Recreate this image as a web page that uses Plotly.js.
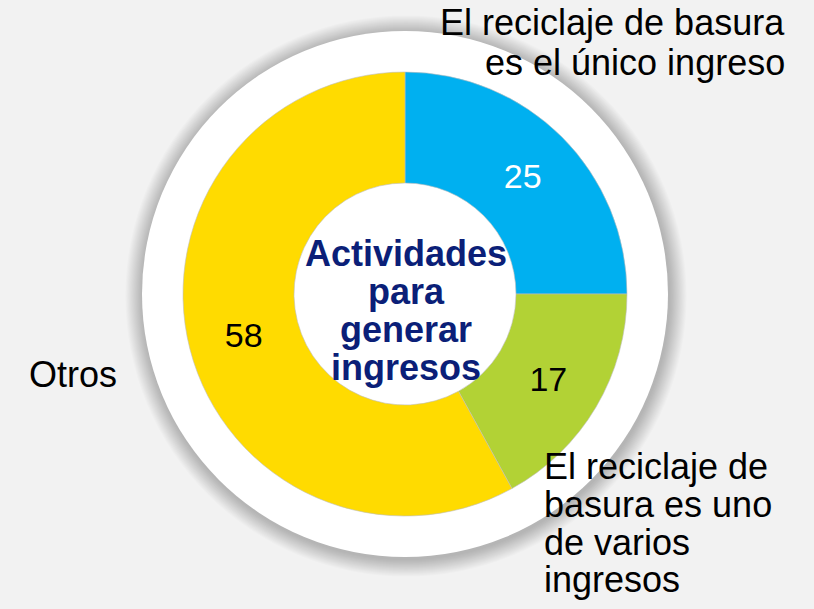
<!DOCTYPE html>
<html>
<head>
<meta charset="utf-8">
<script src="https://cdn.plot.ly/plotly-3.0.1.min.js"></script>
<style>html,body{margin:0;padding:0;background:#F2F2F2;}</style>
</head>
<body>
<div id="chart" style="width:814px;height:609px;"></div>
<script>
// ---- data ----
const categories = [
  "El reciclaje de basura es el único ingreso",
  "El reciclaje de basura es uno de varios ingresos",
  "Otros"
];
const values = [25, 17, 58];
const sliceColors = ["#00B0F0", "#B2D235", "#FFDB00"];
const valueTextColors = ["#FFFFFF", "#000000", "#000000"];
const centerLines = ["Actividades", "para", "generar", "ingresos"];
const labelTopRight = ["El reciclaje de basura", "es el único ingreso"];
const labelBottomRight = ["El reciclaje de", "basura es uno", "de varios", "ingresos"];
const labelLeft = ["Otros"];

// ---- layout helpers (pixel -> paper) ----
const W = 814, H = 609;
const px = x => x / W;
const py = y => 1 - y / H;
const cx = 405, cy = 294, R = 222;   // pie centre / radius in pixels
const ringR = 263;                   // white backing disc

const shapes = [];
// soft shadow around the white disc
const nShadow = 16;
for (let i = nShadow; i >= 1; i--) {
  const r = ringR + i * 1.1;
  shapes.push({
    type: "circle", xref: "paper", yref: "paper", layer: "below",
    x0: px(cx + 1 - r), x1: px(cx + 1 + r), y0: py(cy + 2 + r), y1: py(cy + 2 - r),
    fillcolor: "rgba(0,0,0,0.017)", line: {width: 0}
  });
}
shapes.push({
  type: "circle", xref: "paper", yref: "paper", layer: "below",
  x0: px(cx - ringR), x1: px(cx + ringR), y0: py(cy + ringR), y1: py(cy - ringR),
  fillcolor: "#FFFFFF", line: {width: 0}
});

const annotations = [];
const font = "Liberation Sans, Arial, sans-serif";
function addLines(lines, x, firstCenterY, step, size, anchor, color, bold) {
  lines.forEach((t, i) => {
    annotations.push({
      xref: "paper", yref: "paper", x: px(x), y: py(firstCenterY + i * step),
      text: bold ? "<b>" + t + "</b>" : t, showarrow: false,
      xanchor: anchor, yanchor: "middle",
      font: {family: font, size: size, color: color}
    });
  });
}
addLines(labelTopRight, 787, 23, 40, 36, "right", "#000000", false);
addLines(labelBottomRight, 542, 467, 37.5, 36, "left", "#000000", false);
addLines(labelLeft, 27, 374, 40, 36, "left", "#000000", false);
addLines(centerLines, 406, 253, 38, 36, "center", "#0B1F78", true);

const trace = {
  type: "pie",
  labels: categories,
  values: values,
  sort: false,
  direction: "clockwise",
  rotation: 0,
  hole: 0.5,
  marker: {colors: sliceColors, line: {color: "#BDBDBD", width: 0.6}},
  textinfo: "value",
  textposition: "inside",
  insidetextorientation: "horizontal",
  insidetextfont: {family: font, size: 34, color: valueTextColors},
  domain: {x: [px(cx - R), px(cx + R)], y: [1 - (cy + R) / H, 1 - (cy - R) / H]},
  showlegend: false,
  hoverinfo: "label+value"
};

const layout = {
  width: W, height: H,
  margin: {l: 0, r: 0, t: 0, b: 0},
  paper_bgcolor: "#F2F2F2",
  plot_bgcolor: "#F2F2F2",
  showlegend: false,
  shapes: shapes,
  annotations: annotations
};

Plotly.newPlot("chart", [trace], layout, {displayModeBar: false, staticPlot: true});
</script>
</body>
</html>
